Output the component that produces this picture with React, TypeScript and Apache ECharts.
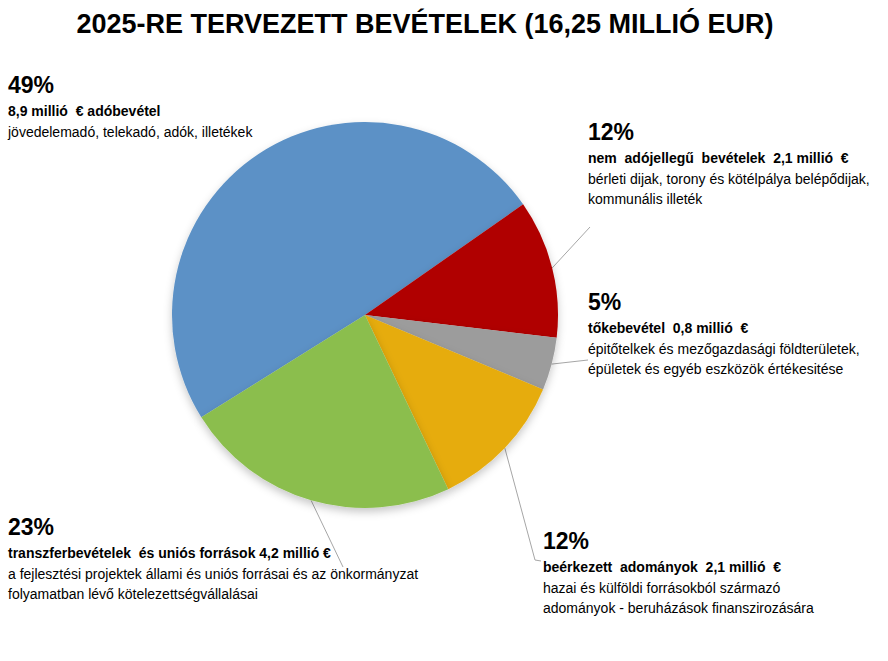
import React, { useEffect, useRef } from 'react';
import * as echarts from 'echarts';

const titleText = '2025-RE TERVEZETT BEVÉTELEK (16,25 MILLIÓ EUR)';

const categories = [
  'adóbevétel',
  'nem adójellegű bevételek',
  'tőkebevétel',
  'beérkezett adományok',
  'transzferbevételek és uniós források',
];
const values = [8.9, 2.1, 0.8, 2.1, 4.2];
const percentLabels = ['49%', '12%', '5%', '12%', '23%'];
const headLines = [
  '8,9 millió  € adóbevétel',
  'nem  adójellegű  bevételek  2,1 millió  €',
  'tőkebevétel  0,8 millió  €',
  'beérkezett  adományok  2,1 millió  €',
  'transzferbevételek  és uniós források 4,2 millió €',
];
const descLines = [
  ['jövedelemadó, telekadó, adók, illetékek'],
  ['bérleti dijak, torony és kötélpálya belépődijak,', 'kommunális illeték'],
  ['épitőtelkek és mezőgazdasági földterületek,', 'épületek és egyéb eszközök értékesitése'],
  ['hazai és külföldi forrásokból származó', 'adományok - beruházások finanszirozására'],
  ['a fejlesztési projektek állami és uniós forrásai és az önkormányzat', 'folyamatban lévő kötelezettségvállalásai'],
];

const colors = ['#5B91C6', '#B00000', '#9C9C9C', '#E6AC0C', '#8BBE4E'];
const labelPositions = [[8, 70], [588, 117], [588, 287], [543, 526], [8, 512]];
const leaderEnds: (number[][] | null)[] = [
  null,
  [[590, 227]],
  [[588, 360]],
  [[535, 560], [541, 561]],
  [[343, 567]],
];

export default function App() {
  const ref = useRef<HTMLDivElement>(null);
  useEffect(() => {
    const chart = echarts.init(ref.current!, null, { renderer: 'svg' });
    const sans = "'Liberation Sans', Arial, sans-serif";
    chart.setOption({
      animation: false,
      backgroundColor: '#ffffff',
      title: {
        text: titleText,
        left: 425,
        top: 10,
        padding: 0,
        textAlign: 'center',
        textStyle: { fontFamily: sans, fontWeight: 'bold', fontSize: 27, color: '#000' },
      },
      series: [
        {
          type: 'pie',
          center: [365, 315],
          radius: 193,
          startAngle: 212,
          clockwise: true,
          avoidLabelOverlap: false,
          itemStyle: {
            shadowBlur: 8,
            shadowOffsetY: 4,
            shadowColor: 'rgba(0,0,0,0.22)',
          },
          data: categories.map((c, i) => ({
            name: c,
            value: values[i],
            itemStyle: { color: colors[i] },
            labelLine: { show: leaderEnds[i] != null },
          })),
          label: {
            show: true,
            position: 'outside',
            color: '#000',
            formatter: (p: any) => {
              const i = p.dataIndex;
              return [
                `{p|${percentLabels[i]}}`,
                `{b|${headLines[i]}}`,
                ...descLines[i].map((l) => `{n|${l}}`),
              ].join('\n');
            },
            rich: {
              p: { fontFamily: sans, fontWeight: 'bold', fontSize: 23, lineHeight: 30, color: '#000' },
              b: { fontFamily: sans, fontWeight: 'bold', fontSize: 14, lineHeight: 22, color: '#000' },
              n: { fontFamily: sans, fontSize: 14, lineHeight: 20, color: '#000' },
            },
          },
          labelLine: {
            show: true,
            length: 10,
            length2: 10,
            lineStyle: { color: '#a6a6a6', width: 1 },
          },
          labelLayout: (params: any) => {
            const i = params.dataIndex;
            const pos = labelPositions[i];
            const res: any = { x: pos[0], y: pos[1], align: 'left', verticalAlign: 'top' };
            const ends = leaderEnds[i];
            if (ends && params.labelLinePoints) {
              const s = params.labelLinePoints[0];
              res.labelLinePoints = [[s[0], s[1]], ...ends];
            }
            return res;
          },
        },
      ],
    });
    return () => chart.dispose();
  }, []);
  return (
    <div
      ref={ref}
      style={{ position: 'fixed', left: 0, top: 0, width: 888, height: 661, background: '#fff' }}
    />
  );
}
